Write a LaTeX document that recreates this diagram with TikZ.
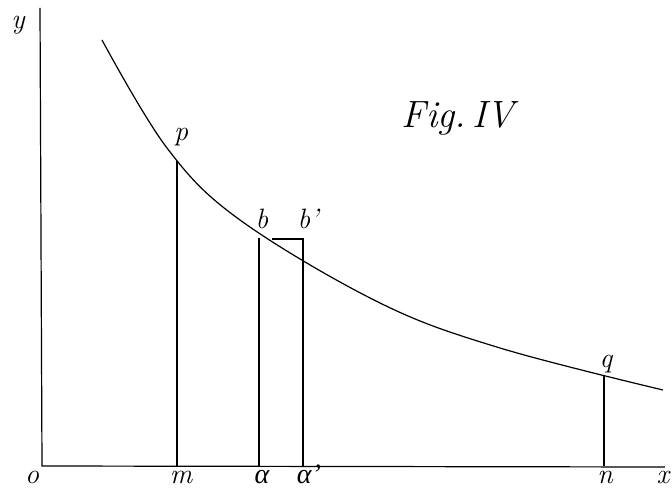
\documentclass[tikz,border=0pt]{standalone}
\usepackage{fontspec}
\newfontfamily\grk{Liberation Serif}
\usepackage{tikz}
\begin{document}
\begin{tikzpicture}[x=1pt,y=-1pt,
  ln/.style={line width=1.2pt,black},
  lab/.style={inner sep=0pt,anchor=base,font=\fontsize{28}{32}\selectfont\itshape}]
\useasboundingbox (0,0) rectangle (672,489);
% axes
\coordinate (O) at (42,466);
\coordinate (Ytop) at (40,8);
\coordinate (Xend) at (665,467);
\draw[ln] (Ytop) -- (O) -- (Xend);
% curve
\draw[ln] plot[smooth,tension=0.6] coordinates {(102,40) (167,148) (240,220) (380,303) (500,348) (663,390)};
% vertical lines
\coordinate (P) at (177,161);
\coordinate (M) at (177,466);
\coordinate (B) at (259,238);
\coordinate (A) at (259,466);
\coordinate (Bp) at (303,239);
\coordinate (Ap) at (303,466);
\coordinate (Bh) at (272,239);
\coordinate (Q) at (604,376);
\coordinate (N) at (604,466);
\draw[ln] (P) -- (M);
\draw[ln] (B) -- (A);
\draw[ln] (Bh) -- (Bp) -- (Ap);
\draw[ln] (Q) -- (N);
% labels
\node[lab] (ly) at (18,29) {y};
\node[lab] (lo) at (32,483) {o};
\node[lab] (lm) at (181,483) {m};
\node[lab] (la) at (262,483) {\grk\itshape α};
\node[lab] (lap) at (309,483) {\grk\itshape α’};
\node[lab] (ln) at (605,483) {n};
\node[lab] (lx) at (663,483) {x};
\node[lab] (lp) at (181,141) {p};
\node[lab] (lb) at (262,229) {b};
\node[lab] (lbp) at (308,229) {b’};
\node[lab] (lq) at (606,367) {q};
\node[inner sep=0pt,font=\fontsize{38}{44}\selectfont\itshape] (fig) at (458,118) {Fig.\,IV};
\end{tikzpicture}
\end{document}
